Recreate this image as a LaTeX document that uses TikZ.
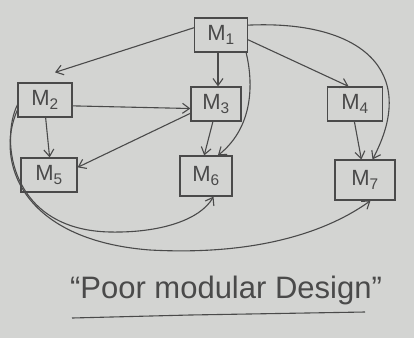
\documentclass[tikz,border=0pt]{standalone}
\usepackage{fontspec}
\setmainfont{Liberation Sans}
\usetikzlibrary{arrows.meta}
\definecolor{paper}{HTML}{D3D4D2}
\definecolor{ink}{HTML}{4A4A4A}
\begin{document}
\begin{tikzpicture}[x=1pt,y=-1pt,
  mod/.style={draw=ink, line width=1.2pt, minimum width=#1, minimum height=34pt, inner sep=0pt, font=\fontsize{22}{24}\selectfont, text=ink},
  link/.style={draw=ink, line width=1.1pt, -{Straight Barb[length=7pt,width=10pt]}}]
\fill[paper] (0,0) rectangle (414,338);
\useasboundingbox (0,0) rectangle (414,338);
\node[mod=53pt] (m1) at (221,35) {M\textsubscript{1}};
\node[mod=54pt] (m2) at (45,100) {M\textsubscript{2}};
\node[mod=50pt] (m3) at (216,104) {M\textsubscript{3}};
\node[mod=55pt] (m4) at (355,104) {M\textsubscript{4}};
\node[mod=56pt] (m5) at (49,175) {M\textsubscript{5}};
\node[mod=52pt, minimum height=40pt] (m6) at (206,176) {M\textsubscript{6}};
\node[mod=60pt, minimum height=40pt] (m7) at (365,180) {M\textsubscript{7}};
\draw[link] (m1.165) -- ([shift={(10,-10)}]m2.north);
\draw[link] (m1.south) ++(-3,0) coordinate (a) -- (a |- m3.north);
\draw[link] (m1.-35) .. controls (255,90) and (250,130) .. (m6.60);
\draw[link] (m1.-10) -- (m4.110);
\draw[link] (m1.20) .. controls (360,20) and (420,70) .. (m7.70);
\draw[link] (m2.-12) -- (m3.-170);
\draw[link] (m2.-88) -- (m5.88);
\draw[link] (m3.-160) -- (m5.15);
\draw[link] (m3.-100) -- (m6.95);
\draw[link] (m4.-92) -- (m7.100);
\draw[link] (m2.-170) .. controls (0,140) and (10,230) .. (110,232) .. controls (160,233) and (200,220) .. (m6.-70);
\draw[link] (m2.-160) .. controls (-5,160) and (20,240) .. (150,250) .. controls (260,256) and (330,230) .. (m7.-75);
\node[text=ink, font=\fontsize{31}{34}\selectfont] (t) at (226,290) {``Poor modular Design''};
\coordinate (u1) at (72,318);
\coordinate (u2) at (365,312);
\draw[ink, line width=1.1pt] (u1) -- (190,315) -- (u2);
\end{tikzpicture}
\end{document}
